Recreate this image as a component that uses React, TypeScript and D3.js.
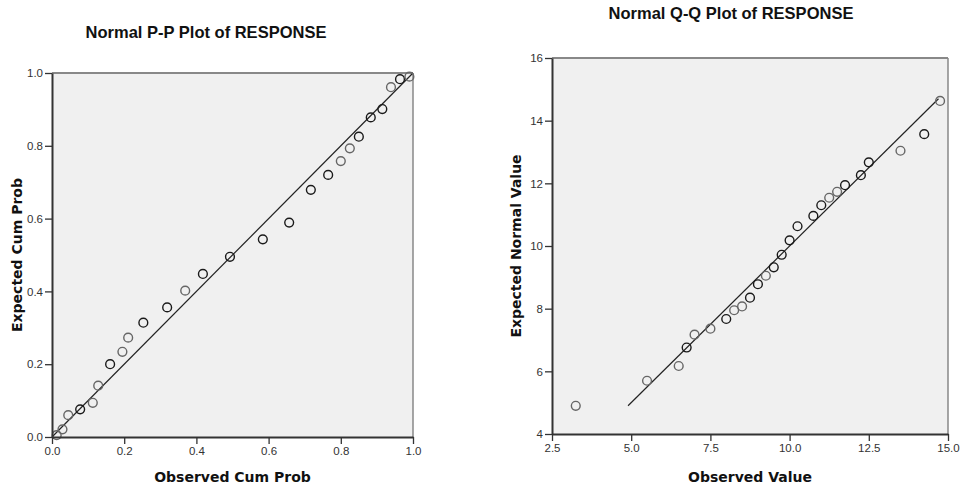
import React, { useEffect, useRef } from "react";
import { select, scaleLinear, axisLeft, axisBottom, format } from "d3";

// P-P plot values (observed cum prob, expected cum prob)
const ppObserved = [0.013, 0.029, 0.045, 0.078, 0.113, 0.128, 0.161, 0.195, 0.211, 0.253, 0.319, 0.369, 0.418, 0.493, 0.584, 0.657, 0.717, 0.765, 0.800, 0.825, 0.850, 0.883, 0.915, 0.939, 0.964, 0.990];
const ppExpected = [0.005, 0.021, 0.060, 0.076, 0.094, 0.141, 0.200, 0.234, 0.273, 0.314, 0.356, 0.402, 0.448, 0.495, 0.543, 0.589, 0.679, 0.720, 0.758, 0.793, 0.825, 0.878, 0.901, 0.961, 0.983, 0.990];

// Q-Q plot values (observed value, expected normal value)
const qqObserved = [3.25, 5.5, 6.5, 6.75, 7.0, 7.5, 8.0, 8.25, 8.5, 8.75, 9.0, 9.25, 9.5, 9.75, 10.0, 10.25, 10.75, 11.0, 11.25, 11.5, 11.75, 12.25, 12.5, 13.5, 14.25, 14.75];
const qqExpected = [4.90, 5.70, 6.17, 6.76, 7.17, 7.36, 7.67, 7.95, 8.07, 8.35, 8.78, 9.05, 9.32, 9.72, 10.18, 10.63, 10.96, 11.30, 11.54, 11.73, 11.94, 12.26, 12.67, 13.04, 13.57, 14.63];

// how many cases sit on each point (overlaps draw darker)
const tieCounts = [1, 1, 1, 2, 1, 1, 2, 1, 1, 2, 2, 1, 2, 2, 2, 2, 2, 2, 1, 1, 2, 2, 2, 1, 2, 1];

const ppTicks = [0, 0.2, 0.4, 0.6, 0.8, 1.0];
const qqXTicks = [2.5, 5.0, 7.5, 10.0, 12.5, 15.0];
const qqYTicks = [4, 6, 8, 10, 12, 14, 16];
const ppLine = [0, 1];
const qqLine = [4.9, 14.7];

const tickFont = "'Liberation Sans', Arial, sans-serif";
const labelFont = "'DejaVu Sans', Verdana, sans-serif";

function Panel(props) {
  const { box, xDomain, yDomain, xTicks, yTicks, xFmt, yFmt, xs, ys, line, title, titleX, titleY, xTitle, yTitle, yTitleX } = props;
  const xRef = useRef();
  const yRef = useRef();

  const x = scaleLinear().domain(xDomain).range([box.left, box.right]);
  const y = scaleLinear().domain(yDomain).range([box.bottom, box.top]);

  useEffect(() => {
    const xAxis = axisBottom(x).tickValues(xTicks).tickFormat(format(xFmt)).tickSize(7).tickPadding(3).tickSizeOuter(0);
    const yAxis = axisLeft(y).tickValues(yTicks).tickFormat(format(yFmt)).tickSize(7).tickPadding(2).tickSizeOuter(0);
    const gx = select(xRef.current).attr("transform", `translate(0, ${box.bottom})`).call(xAxis);
    const gy = select(yRef.current).attr("transform", `translate(${box.left}, 0)`).call(yAxis);
    [gx, gy].forEach(g => {
      g.select(".domain").attr("stroke", "#333").attr("stroke-width", 2);
      g.selectAll(".tick line").attr("stroke", "#333").attr("stroke-width", 1.3);
      g.selectAll(".tick text")
        .attr("fill", "#333")
        .attr("font-size", 11.5)
        .attr("font-family", tickFont);
    });
  }, []);

  const cx = (box.left + box.right) / 2;
  const cy = (box.top + box.bottom) / 2;

  return (
    <g>
      <text x={titleX} y={titleY} textAnchor="middle" fontFamily={tickFont} fontWeight="bold" fontSize={16.5} fill="#111">{title}</text>
      <rect x={box.left} y={box.top} width={box.right - box.left} height={box.bottom - box.top} fill="#f0f0f0" />
      <line x1={box.left} x2={box.right} y1={box.top} y2={box.top} stroke="#888" strokeWidth={2} />
      <line x1={box.right} x2={box.right} y1={box.top} y2={box.bottom} stroke="#888" strokeWidth={1.5} />
      <line x1={x(line[0])} y1={y(line[0])} x2={x(line[1])} y2={y(line[1])} stroke="#222" strokeWidth={1.2} />
      {xs.map((v, i) => (
        <circle key={i} cx={x(v)} cy={y(ys[i])} r={4.4} fill="none"
          stroke={tieCounts[i] > 1 ? "#1a1a1a" : "#666"} strokeWidth={1.4} />
      ))}
      <g ref={xRef} />
      <g ref={yRef} />
      <text x={cx} y={482} textAnchor="middle" fontFamily={labelFont} fontWeight="bold" fontSize={14} fill="#111">{xTitle}</text>
      <text transform={`translate(${yTitleX}, ${cy}) rotate(-90)`} textAnchor="middle" fontFamily={labelFont} fontWeight="bold" fontSize={14} fill="#111">{yTitle}</text>
    </g>
  );
}

export default function App() {
  return (
    <svg width={962} height={484} style={{ position: "absolute", left: 0, top: 0, background: "#fff" }}>
      <Panel
        box={{ left: 52, right: 413, top: 73, bottom: 437 }}
        xDomain={[0, 1]} yDomain={[0, 1]}
        xTicks={ppTicks} yTicks={ppTicks} xFmt=".1f" yFmt=".1f"
        xs={ppObserved} ys={ppExpected} line={ppLine}
        title="Normal P-P Plot of RESPONSE" titleX={206} titleY={38}
        xTitle="Observed Cum Prob" yTitle="Expected Cum Prob" yTitleX={22}
      />
      <Panel
        box={{ left: 552, right: 948, top: 58, bottom: 434 }}
        xDomain={[2.5, 15]} yDomain={[4, 16]}
        xTicks={qqXTicks} yTicks={qqYTicks} xFmt=".1f" yFmt="d"
        xs={qqObserved} ys={qqExpected} line={qqLine}
        title="Normal Q-Q Plot of RESPONSE" titleX={731} titleY={19}
        xTitle="Observed Value" yTitle="Expected Normal Value" yTitleX={521}
      />
    </svg>
  );
}
